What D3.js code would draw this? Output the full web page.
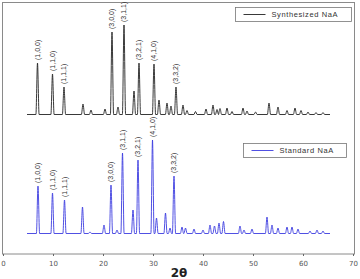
<!DOCTYPE html>
<html>
<head>
<meta charset="utf-8">
<script src="https://cdn.jsdelivr.net/npm/d3@7"></script>
<style>
  body { margin: 0; background: #fff; }
  svg { display: block; }
</style>
</head>
<body>
<div id="chart"></div>
<script>
// peak positions (2θ) and heights (a.u.)
const synthPos = [6.9, 9.9, 12.2, 16.0, 17.6, 20.4, 21.8, 23.0, 24.2, 26.2, 27.2, 30.2, 31.2, 32.8, 33.6, 34.6, 36.0, 36.8, 38.5, 40.6, 42.0, 42.8, 43.4, 44.8, 45.8, 48.0, 48.8, 50.5, 53.2, 55.0, 56.8, 58.4, 59.6, 61.0, 62.6, 64.0]
const synthVal = [515, 405, 275, 105, 45, 55, 825, 75, 895, 235, 515, 505, 145, 115, 85, 275, 95, 40, 30, 55, 95, 50, 60, 65, 30, 65, 35, 25, 115, 75, 40, 65, 40, 25, 20, 20]

const stdPos = [7.0, 9.9, 12.3, 15.9, 17.4, 20.2, 21.6, 22.8, 23.9, 26.0, 27.0, 29.9, 30.7, 32.5, 33.4, 34.2, 35.8, 36.5, 38.2, 40.0, 41.4, 42.3, 43.2, 44.1, 47.4, 48.2, 49.8, 52.8, 53.8, 55.0, 56.8, 57.8, 59.0, 61.4, 62.8, 64.0]
const stdVal = [475, 405, 335, 265, 15, 85, 485, 35, 805, 235, 735, 935, 155, 205, 55, 575, 65, 55, 45, 35, 85, 75, 105, 120, 75, 35, 45, 165, 85, 55, 65, 65, 45, 25, 35, 25]

const synthOffset = 1395
const stdOffset = 205
const range2Theta = [4.8, 65.4]

const labels = ['(1,0,0)', '(1,1,0)', '(1,1,1)', '(3,0,0)', '(3,1,1)', '(3,2,1)', '(4,1,0)', '(3,3,2)']
const synthLabelAt = [6.9, 9.9, 12.2, 21.8, 24.2, 27.2, 30.2, 34.6]
const stdLabelAt = [7.0, 9.9, 12.3, 21.6, 23.9, 27.0, 29.9, 34.2]

const xTicks = [0, 10, 20, 30, 40, 50, 60, 70]

const width = 360
const height = 279
const plot = { left: 3, right: 353, top: 2, bottom: 254 }

const svg = d3.select('#chart')
  .append('svg')
  .attr('width', width)
  .attr('height', height)

const xScale = d3.scaleLinear().domain([0, 70]).range([plot.left, plot.right])
const yScale = d3.scaleLinear().domain([0, 2520]).range([plot.bottom, plot.top])

function profile(pos, val) {
  const pts = [[range2Theta[0], 0]]
  pos.forEach((p, i) => {
    pts.push([p - 0.32, 0], [p, val[i]], [p + 0.32, 0])
  })
  pts.push([range2Theta[1], 0])
  return pts
}

function drawSeries(pos, val, offset, color, labelAt) {
  const line = d3.line()
    .x((d) => xScale(d[0]))
    .y((d) => yScale(d[1] + offset))
    .curve(d3.curveMonotoneX)

  svg.append('path')
    .attr('d', line(profile(pos, val)))
    .attr('fill', 'none')
    .attr('stroke', color)
    .attr('stroke-width', 0.9)

  labelAt.forEach((p, i) => {
    const h = val[pos.indexOf(p)]
    const x = xScale(p)
    const y = yScale(h + offset) - 3
    svg.append('text')
      .attr('transform', `translate(${x + 2.3}, ${y}) rotate(-90)`)
      .attr('font-family', '"Liberation Sans Narrow", "Arial Narrow", sans-serif')
      .attr('font-size', 7)
      .attr('fill', '#333')
      .text(labels[i])
  })
}

// frame
svg.append('rect')
  .attr('x', 2.5)
  .attr('y', 2.5)
  .attr('width', 352)
  .attr('height', 251.5)
  .attr('fill', 'none')
  .attr('stroke', '#8a8a8a')
  .attr('stroke-width', 1)

// axis
const xAxis = d3.axisBottom(xScale)
  .tickValues(xTicks)
  .tickSize(2)
  .tickPadding(5)

const axis = svg.append('g')
  .attr('transform', `translate(0, ${plot.bottom})`)
  .call(xAxis)
axis.select('.domain').remove()
axis.selectAll('line').attr('stroke', '#666')
axis.selectAll('text')
  .attr('font-family', '"DejaVu Sans", sans-serif')
  .attr('font-size', 7)
  .attr('fill', '#555')

svg.append('text')
  .attr('x', 179)
  .attr('y', 277)
  .attr('text-anchor', 'middle')
  .attr('font-family', '"DejaVu Sans", sans-serif')
  .attr('font-weight', 'bold')
  .attr('font-size', 12)
  .attr('fill', '#222')
  .text('2θ')

drawSeries(synthPos, synthVal, synthOffset, '#222', synthLabelAt)
drawSeries(stdPos, stdVal, stdOffset, '#3c3ce0', stdLabelAt)

// legends
function legend(x, y, w, color, name) {
  const g = svg.append('g').attr('transform', `translate(${x}, ${y})`)
  g.append('rect')
    .attr('width', w)
    .attr('height', 14)
    .attr('fill', '#fff')
    .attr('stroke', '#777')
    .attr('stroke-width', 0.8)
  g.append('line')
    .attr('x1', 8).attr('x2', 30)
    .attr('y1', 7).attr('y2', 7)
    .attr('stroke', color)
    .attr('stroke-width', 0.9)
  g.append('text')
    .attr('x', 36)
    .attr('y', 9.8)
    .attr('font-family', '"Liberation Sans", Arial, sans-serif')
    .attr('font-size', 7.5)
    .attr('letter-spacing', 0.6)
    .attr('fill', '#333')
    .text(name)
}

legend(235.5, 7.5, 116, '#222', 'Synthesized NaA')
legend(243.5, 143.5, 103, '#3c3ce0', 'Standard NaA')
</script>
</body>
</html>
